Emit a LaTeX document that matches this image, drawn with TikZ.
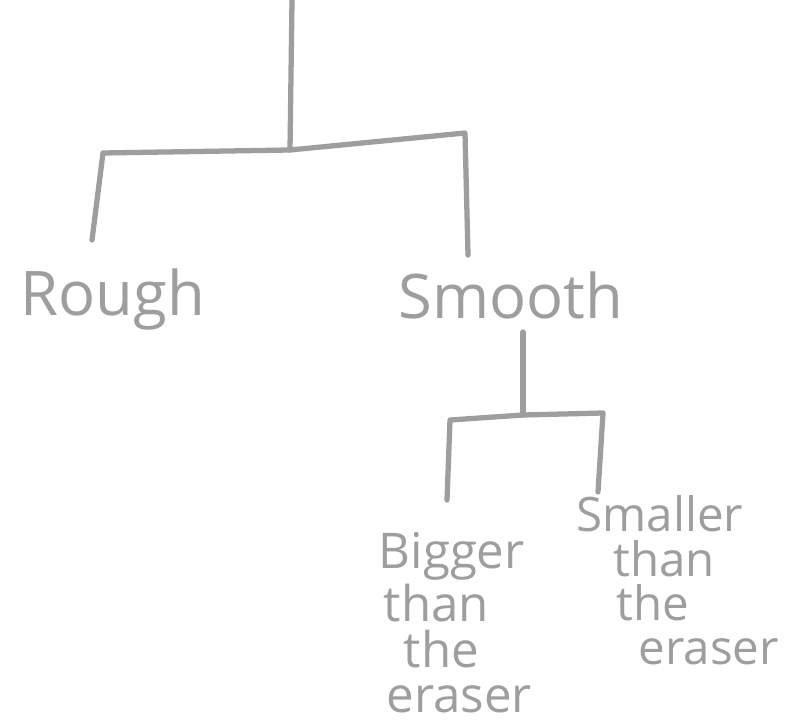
\documentclass[tikz,border=0pt]{standalone}
\usepackage{fontspec}
\setmainfont{Open Sans}
\begin{document}
\begin{tikzpicture}[x=1cm,y=-1cm,
  pencil/.style={draw=black!38, line width=1.5pt, line cap=round, line join=round},
  lbl/.style={text=black!38, inner sep=0pt, font=\fontsize{17.5}{20}\selectfont},
  sublbl/.style={text=black!38, inner sep=0pt, align=left}]
\useasboundingbox[fill=white] (0,0) rectangle (8.03,7.28);
% junction coordinates
\coordinate (top) at (2.92,0);
\coordinate (j1) at (2.90,1.50);
\coordinate (l1) at (1.03,1.53);
\coordinate (r1) at (4.65,1.33);
\coordinate (l1e) at (0.92,2.40);
\coordinate (r1e) at (4.68,2.55);
% labels
\node[lbl, anchor=west] (rough) at (0.20,3.00) {Rough};
\node[lbl, anchor=west] (smooth) at (3.98,2.95) {Smooth};
\coordinate (s0) at (5.23,3.32);
\coordinate (j2) at (5.23,4.15);
\coordinate (l2) at (4.50,4.20);
\coordinate (r2) at (6.03,4.13);
\coordinate (l2e) at (4.47,5.00);
\coordinate (r2e) at (5.98,4.92);
\node[sublbl, anchor=north west, font=\fontsize{14}{13}\selectfont] (bigger) at (3.78,5.32)
  {Bigger\\\hspace*{0.05cm}than\\\hspace*{0.25cm}the\\\hspace*{0.08cm}eraser};
\node[sublbl, anchor=north west, font=\fontsize{13.5}{12.6}\selectfont] (smaller) at (5.76,4.95)
  {Smaller\\\hspace*{0.37cm}than\\\hspace*{0.40cm}the\\\hspace*{0.62cm}eraser};
% connectors
\draw[pencil] (top) -- (j1);
\draw[pencil] (l1e) -- (l1) -- (j1) -- (r1) -- (r1e);
\draw[pencil] (s0) -- (j2);
\draw[pencil] (l2e) -- (l2) -- (j2) -- (r2) -- (r2e);
\end{tikzpicture}
\end{document}
